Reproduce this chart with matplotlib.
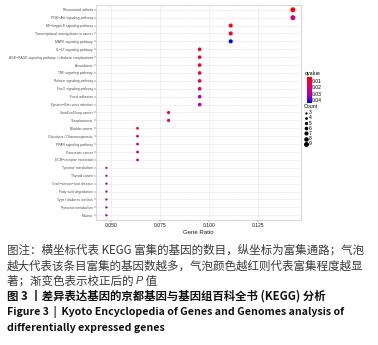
import numpy as np
import matplotlib
matplotlib.use('Agg')
import matplotlib.pyplot as plt
from matplotlib.colors import LinearSegmentedColormap, Normalize

plt.rcParams['font.family'] = ['Liberation Sans', 'DejaVu Sans']

# 1. DỮ LIỆU
pathways = [
    "Rheumatoid arthritis", "PI3K\u2212Akt signaling pathway",
    "NF\u2212kappa B signaling pathway", "Transcriptional misregulation in cancer",
    "MAPK signaling pathway", "IL\u221217 signaling pathway",
    "AGE\u2212RAGE signaling pathway in diabetic complications", "Amoebiasis",
    "TNF signaling pathway", "Relaxin signaling pathway", "FoxO signaling pathway",
    "Focal adhesion", "Epstein\u2212Barr virus infection", "Small cell lung cancer",
    "Toxoplasmosis", "Bladder cancer", "Glycolysis / Gluconeogenesis",
    "PPAR signaling pathway", "Pancreatic cancer", "ECM\u2212receptor interaction",
    "Tyrosine metabolism", "Thyroid cancer", "Graft\u2212versus\u2212host disease",
    "Fatty acid degradation", "Type I diabetes mellitus", "Pyruvate metabolism",
    "Malaria",
]
counts = [9, 9, 7, 7, 7, 6, 6, 6, 6, 6, 6, 6, 6, 5, 5, 4, 4, 4, 4, 4,
          3, 3, 3, 3, 3, 3, 3]
total_genes = 63
qvalues = [0.004, 0.021, 0.006, 0.011, 0.044, 0.008, 0.009, 0.009, 0.010,
           0.011, 0.012, 0.028, 0.029, 0.012, 0.013, 0.008, 0.023, 0.024,
           0.025, 0.028, 0.026, 0.028, 0.030, 0.031, 0.032, 0.033, 0.036]
xticks = [0.050, 0.075, 0.100, 0.125]
qticks = [0.01, 0.02, 0.03, 0.04]
count_levels = [3, 4, 5, 6, 7, 8, 9]

gene_ratio = np.array(counts) / total_genes
ypos = np.arange(len(pathways))[::-1] + 1

# thang màu đỏ -> xanh (giống ggplot)
cmap = LinearSegmentedColormap.from_list(
    'rb', ['#FF0000', '#E80050', '#C90088', '#9B00C3', '#0000FF'])
norm = Normalize(vmin=min(qvalues), vmax=max(qvalues))

def dot_size(c):
    d_px = 2.3 + (c - 3) / 6 * (5.0 - 2.3)
    return (d_px * 0.72) ** 2

# 2. VẼ
fig = plt.figure(figsize=(3.78, 3.45), dpi=100)
W, H = 378, 345
ax = fig.add_axes([96 / W, 1 - 220 / H, 205 / W, 215 / H])

ax.scatter(gene_ratio, ypos, s=[dot_size(c) for c in counts],
           c=qvalues, cmap=cmap, norm=norm, linewidths=0, zorder=3)

ax.set_xlim(0.0423, 0.147)
ax.set_ylim(0.4, len(pathways) + 0.6)
ax.set_xticks(xticks)
ax.set_xticklabels(['%.3f' % v for v in xticks], fontsize=3.6, color='#1A1A1A')
ax.set_xticks([0.0625, 0.0875, 0.1125, 0.1375], minor=True)
ax.set_yticks(ypos)
ax.set_yticklabels(pathways, fontsize=2.45, color='#4D4D4D')
ax.tick_params(axis='both', length=1.2, width=0.3, color='#333333', pad=1)
ax.tick_params(axis='x', which='minor', length=0)
ax.grid(True, which='major', color='#EBEBEB', linewidth=0.5, zorder=0)
ax.grid(True, which='minor', axis='x', color='#F4F4F4', linewidth=0.3, zorder=0)
for sp in ax.spines.values():
    sp.set_color('#D0D0D0')
    sp.set_linewidth(0.6)
ax.set_axisbelow(True)
ax.set_xlabel('Gene Ratio', fontsize=4.3, labelpad=1.5, color='#1A1A1A')

# chú giải qvalue
cax = fig.add_axes([307 / W, 1 - 103 / H, 4.5 / W, 26 / H])
sm = plt.cm.ScalarMappable(norm=norm, cmap=cmap)
cb = fig.colorbar(sm, cax=cax, ticks=qticks)
cb.outline.set_visible(False)
cax.invert_yaxis()
cax.tick_params(length=0, labelsize=3.6, pad=0.5)
fig.text(305 / W, 1 - 73 / H, 'qvalue', fontsize=3.8, va='center', ha='left')

# chú giải Count
handles = [ax.scatter([], [], s=dot_size(c), color='black', linewidths=0)
           for c in count_levels]
leg = fig.legend(handles, [str(c) for c in count_levels], title='Count',
                 loc='upper left', bbox_to_anchor=(304 / W, 1 - 104 / H),
                 frameon=False, fontsize=3.6, title_fontsize=3.8,
                 labelspacing=0.02, handletextpad=0.1, borderpad=0,
                 handlelength=0.9, alignment='left', borderaxespad=0)
leg._legend_box.sep = 1

# 3. CHÚ THÍCH HÌNH
cjk = ['Noto Sans CJK SC', 'DejaVu Sans']
x0 = 7 / W
fs = 8.3
gray = '#3A3A3A'
fig.text(x0, 1 - 250 / H, '图注：横坐标代表 KEGG 富集的基因的数目，纵坐标为富集通路；气泡',
         family=cjk, fontsize=fs, color=gray, va='center')
fig.text(x0, 1 - 266 / H, '越大代表该条目富集的基因数越多，气泡颜色越红则代表富集程度越显',
         family=cjk, fontsize=fs, color=gray, va='center')
t1 = fig.text(x0, 1 - 281 / H, '著；渐变色表示校正后的 ',
              family=cjk, fontsize=fs, color=gray, va='center')
fig.canvas.draw()
r = fig.canvas.get_renderer()
bb = t1.get_window_extent(r)
t2 = fig.text(bb.x1 / fig.bbox.width, 1 - 281 / H, 'P', family='Liberation Sans',
              fontsize=7.8, color=gray, va='center', style='italic')
bb2 = t2.get_window_extent(r)
fig.text(bb2.x1 / fig.bbox.width, 1 - 281 / H, ' 值', family=cjk, fontsize=fs,
         color=gray, va='center')
fig.text(x0, 1 - 296 / H, '图 3 丨差异表达基因的京都基因与基因组百科全书 (KEGG) 分析',
         family=cjk, fontsize=8.2, color='#111111', va='center', fontweight='bold')
fig.text(x0, 1 - 312 / H, 'Figure 3  |  Kyoto Encyclopedia of Genes and Genomes analysis of',
         family=cjk, fontsize=7.6, color='#111111', va='center', fontweight='bold')
fig.text(x0, 1 - 328 / H, 'differentially expressed genes',
         family=cjk, fontsize=7.6, color='#111111', va='center', fontweight='bold')

fig.savefig('out.png', dpi=100)
